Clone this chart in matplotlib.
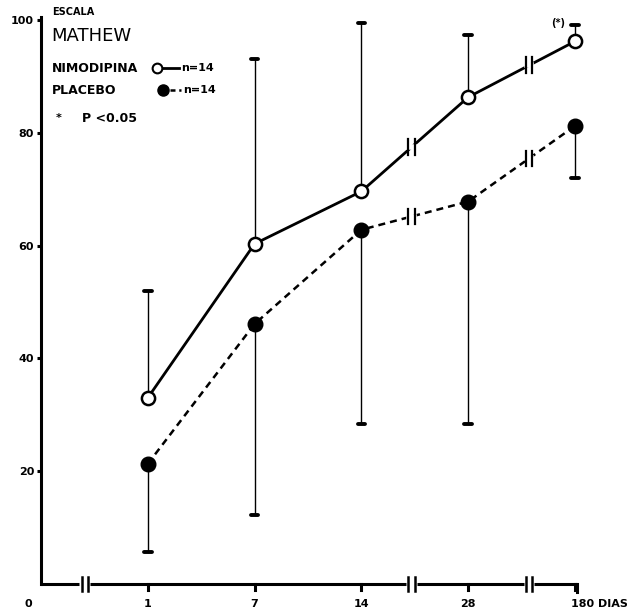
import numpy as np
import matplotlib
matplotlib.use('Agg')
import matplotlib.pyplot as plt
from matplotlib.lines import Line2D

# data
days = ['1', '7', '14', '28', '180']
nimodipina = [33.0, 60.3, 69.6, 86.3, 96.2]
nimodipina_upper = [52.0, 93.0, 99.5, 97.3, 99.1]
placebo = [21.3, 46.1, 62.8, 67.8, 81.2]
placebo_lower = [5.7, 12.2, 28.4, 28.4, 72.0]
yticks = [20, 40, 60, 80, 100]

W, H = 632, 611
fig = plt.figure(figsize=(W / 100, H / 100), dpi=100)
ax = fig.add_axes([41 / W, 27 / H, 566 / W, 581 / H])
ax.set_xlim(0, 5.3)
ax.set_ylim(0, 103)

FONT = 'DejaVu Sans'
pos = np.arange(1, len(days) + 1)


def fpx(x, y):
    # pixel position -> figure fraction
    return x / W, 1 - y / H


# error bars (one-sided)
for x, m, u in zip(pos, nimodipina, nimodipina_upper):
    ax.plot([x, x], [m, u], color='black', lw=1.0, zorder=2)
    ax.plot([x - 0.035, x + 0.035], [u, u], color='black', lw=2.8, solid_capstyle='round', zorder=2)
for x, m, l in zip(pos, placebo, placebo_lower):
    ax.plot([x, x], [m, l], color='black', lw=1.0, zorder=2)
    ax.plot([x - 0.035, x + 0.035], [l, l], color='black', lw=2.8, solid_capstyle='round', zorder=2)

# lines
ax.plot(pos, nimodipina, color='black', lw=2.0, zorder=3)
ax.plot(pos, placebo, color='black', lw=1.8, dashes=(2.8, 2.0), zorder=3)
ax.plot(pos, nimodipina, 'o', ms=9.5, mfc='white', mec='black', mew=1.8, zorder=4)
ax.plot(pos, placebo, 'o', ms=10.5, mfc='black', mec='black', zorder=4)

# break marks on the curves
breaks = [3.47, 4.57]
for bx in breaks:
    for series in (nimodipina, placebo):
        by = np.interp(bx, pos, series)
        ax.plot([bx - 0.02, bx + 0.02], [by, by], color='white', lw=4, zorder=5)
        for dx in (-0.03, 0.03):
            ax.plot([bx + dx, bx + dx], [by - 1.4, by + 1.4], color='black', lw=1.6, zorder=6)

# axes
for s in ['top', 'right', 'bottom']:
    ax.spines[s].set_visible(False)
ax.spines['left'].set_bounds(0, 100.5)
ax.spines['left'].set_linewidth(2.2)
ax.set_yticks(yticks)
ax.set_yticklabels([str(v) for v in yticks], fontfamily=FONT, fontweight='bold', fontsize=8)
ax.tick_params(axis='y', length=3, width=2.2, pad=2)
ax.set_xticks([])

# bottom axis with breaks
axis_breaks = [0.41, 3.47, 4.57]
segs = [0] + [b for bx in axis_breaks for b in (bx - 0.05, bx + 0.05)] + [5.02]
for a, b in zip(segs[::2], segs[1::2]):
    ax.plot([a, b], [0, 0], color='black', lw=2.2, clip_on=False, solid_capstyle='butt')
for bx in axis_breaks:
    for dx in (-0.03, 0.03):
        ax.plot([bx + dx, bx + dx], [-1.3, 1.3], color='black', lw=1.8, clip_on=False)
ax.plot([5.02, 5.02], [0, -1.4], color='black', lw=2.2, clip_on=False)
for x in pos:
    ax.plot([x, x], [0, -1.1], color='black', lw=2.2, clip_on=False)

# x labels
ax.text(-0.12, -3.6, '0', ha='center', va='center', fontfamily=FONT, fontweight='bold', fontsize=8,
        clip_on=False)
for x, d in zip(pos[:-1], days[:-1]):
    ax.text(x, -3.6, d, ha='center', va='center', fontfamily=FONT, fontweight='bold', fontsize=8,
            clip_on=False)
ax.text(pos[-1] - 0.04, -3.6, days[-1] + ' DIAS', ha='left', va='center', fontfamily=FONT,
        fontweight='bold', fontsize=8, clip_on=False)

# significance mark
ax.text(pos[-1] - 0.16, 99.4, '(*)', ha='center', va='center', fontfamily=FONT, fontweight='bold',
        fontsize=7)

# legend block
fig.text(*fpx(52, 12), 'ESCALA', ha='left', va='center', fontfamily=FONT, fontweight='bold', fontsize=7)
fig.text(*fpx(51, 36), 'MATHEW', ha='left', va='center', fontfamily=FONT, fontsize=13)
fig.text(*fpx(52, 68), 'NIMODIPINA', ha='left', va='center', fontfamily=FONT, fontweight='bold', fontsize=9)
fig.text(*fpx(52, 90), 'PLACEBO', ha='left', va='center', fontfamily=FONT, fontweight='bold', fontsize=9)
fig.text(*fpx(56, 118), '*', ha='left', va='center', fontfamily=FONT, fontweight='bold', fontsize=8)
fig.text(*fpx(82, 118), 'P <0.05', ha='left', va='center', fontfamily=FONT, fontweight='bold', fontsize=9)
fig.text(*fpx(181, 68), 'n=14', ha='left', va='center', fontfamily=FONT, fontweight='bold', fontsize=8)
fig.text(*fpx(183, 90), 'n=14', ha='left', va='center', fontfamily=FONT, fontweight='bold', fontsize=8)

x0, y0 = fpx(157, 68)
x1, _ = fpx(163, 68)
x2, _ = fpx(179, 68)
fig.add_artist(Line2D([x1, x2], [y0, y0], color='black', lw=2.0, transform=fig.transFigure))
fig.add_artist(Line2D([x0], [y0], marker='o', ms=7, mfc='white', mec='black', mew=1.5,
                      transform=fig.transFigure))
x0, y0 = fpx(163, 90)
x1, _ = fpx(170, 90)
x2, _ = fpx(181, 90)
fig.add_artist(Line2D([x1, x2], [y0, y0], color='black', lw=1.8, dashes=(2, 1.5), transform=fig.transFigure))
fig.add_artist(Line2D([x0], [y0], marker='o', ms=8, mfc='black', mec='black',
                      transform=fig.transFigure))

fig.savefig('out.png', dpi=100)
